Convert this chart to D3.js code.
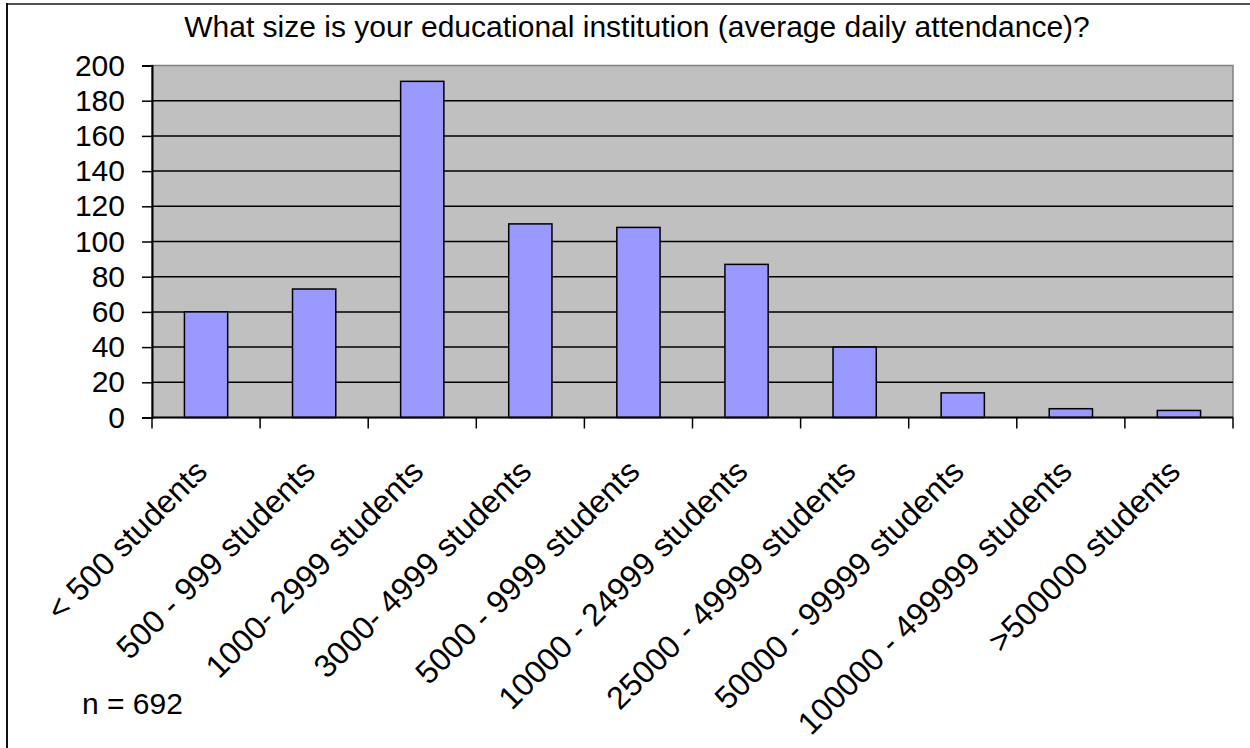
<!DOCTYPE html>
<html>
<head>
<meta charset="utf-8">
<script src="https://cdn.jsdelivr.net/npm/d3@7"></script>
<style>
  body { margin: 0; background: #fff; }
  text { font-family: "Liberation Sans", Arial, sans-serif; fill: #000; }
</style>
</head>
<body>
<div id="chart"></div>
<script>
// data
var categories = ["< 500 students", "500 - 999 students", "1000- 2999 students",
  "3000- 4999 students", "5000 - 9999 students", "10000 - 24999 students",
  "25000 - 49999 students", "50000 - 99999 students", "100000 - 499999 students",
  ">500000 students"];
var counts = [60, 73, 191, 110, 108, 87, 40, 14, 5, 4];
var yTicks = [0, 20, 40, 60, 80, 100, 120, 140, 160, 180, 200];
var titleText = "What size is your educational institution (average daily attendance)?";
var noteText = "n = 692";

var svgWidth = 1250;
var svgHeight = 748;

var margin = { top: 65.5, right: 17, bottom: 330.5, left: 152 };
var width = svgWidth - margin.left - margin.right;
var height = svgHeight - margin.top - margin.bottom;

var svg = d3.select("#chart")
  .append("svg")
  .attr("width", svgWidth)
  .attr("height", svgHeight);

// outer chart border (cut off at right/bottom in the picture)
svg.append("line")
  .attr("x1", 7).attr("x2", svgWidth).attr("y1", 4).attr("y2", 4)
  .attr("stroke", "#555").attr("stroke-width", 2);
svg.append("line")
  .attr("x1", 7).attr("x2", 7).attr("y1", 3).attr("y2", svgHeight)
  .attr("stroke", "#111").attr("stroke-width", 2);

svg.append("text")
  .attr("x", 637)
  .attr("y", 37)
  .attr("text-anchor", "middle")
  .style("font-size", "30px")
  .text(titleText);

svg.append("text")
  .attr("x", 82)
  .attr("y", 714)
  .style("font-size", "30px")
  .text(noteText);

var chartGroup = svg.append("g")
  .attr("transform", `translate(${margin.left}, ${margin.top})`);

var xBand = d3.scaleBand()
  .domain(categories)
  .range([0, width])
  .padding(0);

var xBar = d3.scaleBand()
  .domain(categories)
  .range([0, width])
  .paddingInner(0.6)
  .paddingOuter(0.3);

var yLinearScale = d3.scaleLinear()
  .domain([0, 200])
  .range([height, 0]);

// plot area
chartGroup.append("rect")
  .attr("width", width)
  .attr("height", height)
  .attr("fill", "#c0c0c0")
  .attr("stroke", "#808080")
  .attr("stroke-width", 1.5);

// gridlines
chartGroup.selectAll(".grid")
  .data(yTicks.filter(d => d > 0 && d < 200))
  .enter()
  .append("line")
  .attr("class", "grid")
  .attr("x1", 0)
  .attr("x2", width)
  .attr("y1", d => yLinearScale(d))
  .attr("y2", d => yLinearScale(d))
  .attr("stroke", "#000")
  .attr("stroke-width", 1.5);

// bars
chartGroup.selectAll(".bar")
  .data(counts)
  .enter()
  .append("rect")
  .attr("class", "bar")
  .attr("x", (d, i) => xBar(categories[i]))
  .attr("y", d => yLinearScale(d))
  .attr("width", xBar.bandwidth())
  .attr("height", d => height - yLinearScale(d))
  .attr("fill", "#9999ff")
  .attr("stroke", "#000")
  .attr("stroke-width", 1.5);

// y axis
var leftAxis = d3.axisLeft(yLinearScale)
  .tickValues(yTicks)
  .tickSizeOuter(0)
  .tickSize(10)
  .tickPadding(17);

var yAxisG = chartGroup.append("g").call(leftAxis);
yAxisG.select(".domain").attr("stroke", "#000").attr("stroke-width", 2);
yAxisG.selectAll(".tick line").attr("stroke", "#000").attr("stroke-width", 1.5);
yAxisG.selectAll(".tick text")
  .style("font-size", "30px")
  .attr("font-family", null);

// x axis: ticks at band boundaries
var xAxisG = chartGroup.append("g")
  .attr("transform", `translate(0, ${height})`);

xAxisG.append("line")
  .attr("x1", 0).attr("x2", width)
  .attr("stroke", "#000").attr("stroke-width", 2);

xAxisG.selectAll(".xtick")
  .data(categories.concat(["end"]))
  .enter()
  .append("line")
  .attr("class", "xtick")
  .attr("x1", (d, i) => i < categories.length ? xBand(d) : width)
  .attr("x2", (d, i) => i < categories.length ? xBand(d) : width)
  .attr("y1", 0)
  .attr("y2", 11)
  .attr("stroke", "#000")
  .attr("stroke-width", 1.5);

xAxisG.selectAll(".xlabel")
  .data(categories)
  .enter()
  .append("text")
  .attr("class", "xlabel")
  .attr("transform", d => `translate(${xBand(d) + xBand.bandwidth() / 2 + 3}, 56) rotate(-45)`)
  .attr("text-anchor", "end")
  .style("font-size", "32px")
  .text(d => d);
</script>
</body>
</html>
